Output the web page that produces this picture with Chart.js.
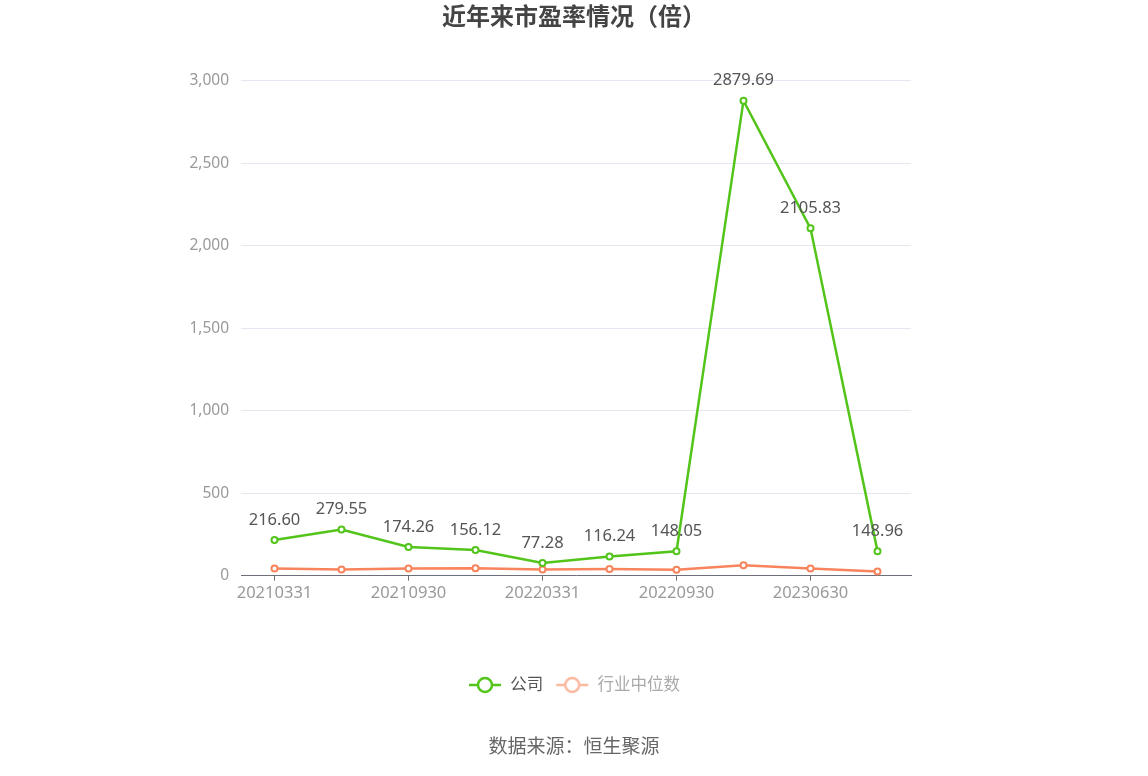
<!DOCTYPE html>
<html>
<head>
<meta charset="utf-8">
<script src="https://cdn.jsdelivr.net/npm/chart.js@4.4.0/dist/chart.umd.min.js"></script>
<style>
  html, body { margin: 0; padding: 0; background: #fff; }
  #wrap { width: 1148px; height: 776px; }
</style>
</head>
<body>
<div id="wrap"><canvas id="peChart"></canvas></div>
<script>
// 报告期
const periods = ["20210331", "20210630", "20210930", "20211231", "20220331",
                 "20220630", "20220930", "20221231", "20230630", "20230930"];
// 公司市盈率
const companyPE = [216.60, 279.55, 174.26, 156.12, 77.28, 116.24, 148.05, 2879.69, 2105.83, 148.96];
// 行业中位数
const industryPE = [44, 38, 43, 45, 38, 41, 36, 63, 43, 26];
// y轴刻度
const yTicks = [0, 500, 1000, 1500, 2000, 2500, 3000];

const GREEN = '#52c41a';
const ORANGE = '#f7845c';
const FONT = '"Noto Sans", "Noto Sans CJK SC", sans-serif';

// 图例图标：线 + 空心圆
function legendIcon(color) {
    const c = document.createElement('canvas');
    c.width = 34; c.height = 18;
    const ctx = c.getContext('2d');
    ctx.strokeStyle = color;
    ctx.lineWidth = 2.5;
    ctx.beginPath();
    ctx.moveTo(1, 9); ctx.lineTo(33, 9);
    ctx.stroke();
    ctx.beginPath();
    ctx.arc(17, 9, 7, 0, Math.PI * 2);
    ctx.fillStyle = '#fff';
    ctx.fill();
    ctx.stroke();
    return c;
}
const icons = [legendIcon(GREEN), legendIcon('#fbb9a0')];
const legendColors = ['#555', '#aaa'];

// 数据标签
const valueLabels = {
    id: 'valueLabels',
    afterDatasetsDraw(chart) {
        const meta = chart.getDatasetMeta(0);
        const ctx = chart.ctx;
        ctx.save();
        ctx.font = '16.5px ' + FONT;
        ctx.fillStyle = '#555';
        ctx.textAlign = 'center';
        ctx.textBaseline = 'middle';
        meta.data.forEach((pt, i) => {
            ctx.fillText(companyPE[i].toFixed(2), pt.x, pt.y - 20);
        });
        ctx.restore();
    }
};

new Chart(document.getElementById('peChart'), {
    type: 'line',
    data: {
        labels: periods,
        datasets: [
            {
                label: '公司',
                data: companyPE,
                borderColor: GREEN,
                backgroundColor: '#fff',
                borderWidth: 2.5,
                pointRadius: 3,
                pointBorderWidth: 2,
                pointBackgroundColor: '#fff',
                pointBorderColor: GREEN,
                tension: 0
            },
            {
                label: '行业中位数',
                data: industryPE,
                borderColor: ORANGE,
                backgroundColor: '#fff',
                borderWidth: 2.5,
                pointRadius: 3,
                pointBorderWidth: 2,
                pointBackgroundColor: '#fff',
                pointBorderColor: ORANGE,
                tension: 0
            }
        ]
    },
    options: {
        responsive: true,
        maintainAspectRatio: false,
        animation: false,
        layout: { padding: { left: 0, right: 0, top: 0, bottom: 17 } },
        plugins: {
            title: {
                display: true,
                text: '近年来市盈率情况（倍）',
                color: '#444',
                font: { family: FONT, size: 24, weight: 'bold' },
                padding: { top: 4, bottom: 48 }
            },
            subtitle: {
                display: true,
                position: 'bottom',
                text: '数据来源：恒生聚源',
                color: '#666',
                font: { family: FONT, size: 19 },
                padding: { top: 33, bottom: 0 }
            },
            legend: {
                position: 'bottom',
                labels: {
                    usePointStyle: true,
                    pointStyleWidth: 34,
                    padding: 12,
                    font: { family: FONT, size: 16.5 },
                    generateLabels(chart) {
                        const items = Chart.defaults.plugins.legend.labels.generateLabels(chart);
                        items.forEach((it, i) => {
                            it.pointStyle = icons[i];
                            it.fontColor = legendColors[i];
                        });
                        return items;
                    }
                }
            },
            tooltip: { enabled: false }
        },
        scales: {
            x: {
                offset: true,
                afterFit(scale) { scale.height = 89; },
                grid: {
                    drawOnChartArea: false,
                    drawTicks: true,
                    tickLength: 5,
                    color: '#6e7079'
                },
                border: { display: true, color: '#6e7079', width: 1 },
                ticks: {
                    autoSkip: false,
                    maxRotation: 0,
                    padding: 3,
                    color: '#999',
                    font: { family: FONT, size: 16.5 },
                    callback(value, index) {
                        return index % 2 === 0 ? periods[index] : null;
                    }
                }
            },
            y: {
                min: yTicks[0],
                max: yTicks[yTicks.length - 1],
                afterFit(scale) { scale.width = 241; },
                afterBuildTicks(scale) {
                    scale.ticks = yTicks.map(v => ({ value: v }));
                },
                grid: { color: '#e6e8f1', drawTicks: false },
                border: { display: false },
                ticks: {
                    padding: 12,
                    color: '#999',
                    font: { family: FONT, size: 15.5 },
                    callback(value) { return value.toLocaleString('en-US'); }
                }
            },
            // 右侧留白
            yRight: {
                position: 'right',
                afterFit(scale) { scale.width = 237; },
                grid: { display: false },
                border: { display: false },
                ticks: { display: false }
            }
        }
    },
    plugins: [valueLabels]
});
</script>
</body>
</html>
